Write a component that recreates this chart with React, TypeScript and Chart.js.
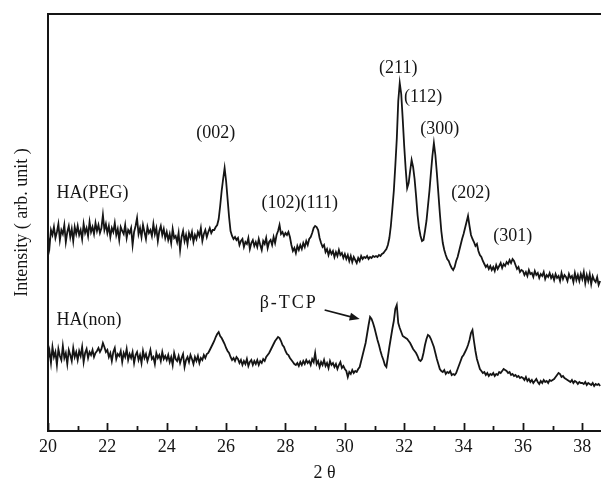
import React, { useEffect, useRef } from "react";
import { Chart, registerables } from "chart.js";

Chart.register(...registerables);

// ---- axis settings ----
const START_ANGLE = 20;
const ANGLE_STEP = 0.05;
const X_MIN = 20;
const X_MAX = 38.63;
const Y_MIN = 0;
const Y_MAX = 417;

const majorTickValues = [20, 22, 24, 26, 28, 30, 32, 34, 36, 38];
const minorTickValues = [21, 23, 25, 27, 29, 31, 33, 35, 37];

const xAxisTitle = "2 θ";
const yAxisTitle = "Intensity ( arb. unit )";

const seriesNames = ["HA(PEG)", "HA(non)"];

// ---- intensities, one value every 0.05° from 20.00° ----
const pegIntensity = [
  // 20
  195, 184, 201, 196, 204, 193, 199, 207, 191, 201, 197, 206, 189, 199, 205, 194, 202, 190, 204, 197,
  // 21
  205, 196, 201, 192, 207, 198, 203, 195, 209, 199, 204, 197, 208, 200, 206, 198, 203, 216, 201, 207,
  // 22
  198, 205, 194, 203, 199, 208, 196, 202, 191, 204, 200, 197, 206, 193, 201, 198, 203, 186, 199, 205,
  // 23
  213, 197, 203, 194, 206, 199, 192, 204, 198, 201, 195, 207, 197, 203, 190, 200, 205, 196, 202, 193,
  // 24
  199, 191, 197, 188, 202, 193, 195, 189, 198, 181, 194, 200, 190, 196, 187, 198, 193, 199, 189, 196,
  // 25
  192, 199, 195, 203, 190, 197, 201, 194, 199, 203, 198, 201, 201, 204, 206, 212, 225, 240, 252, 263,
  // 26
  250, 232, 214, 200, 195, 192, 194, 191, 193, 186, 190, 192, 184, 189, 187, 193, 182, 188, 191, 185,
  // 27
  189, 184, 192, 186, 181, 190, 187, 193, 183, 189, 191, 186, 194, 188, 196, 200, 206, 197, 199, 195,
  // 28
  198, 196, 199, 194, 186, 180, 183, 178, 185, 181, 186, 182, 188, 184, 190, 186, 192, 194, 198, 203,
  // 29
  205, 204, 201, 193, 188, 184, 186, 179, 182, 176, 181, 177, 180, 174, 179, 175, 181, 176, 178, 173,
  // 30
  177, 172, 176, 170, 175, 169, 174, 171, 168, 173, 170, 175, 172, 174, 173, 175, 172, 174, 173, 175,
  // 31
  174, 175, 174, 176, 175, 177, 178, 180, 182, 186, 193, 205, 222, 240, 265, 292, 330, 348, 337, 312,
  // 32
  285, 262, 243, 248, 260, 271, 264, 252, 235, 216, 203, 195, 190, 191, 200, 210, 225, 240, 258, 275,
  // 33
  288, 276, 258, 238, 218, 200, 188, 181, 176, 172, 170, 166, 163, 161, 164, 170, 174, 180, 186, 192,
  // 34
  197, 203, 209, 215, 205, 196, 192, 189, 185, 187, 180, 176, 174, 170, 167, 164, 166, 162, 165, 161,
  // 35
  164, 160, 166, 162, 165, 168, 163, 167, 165, 169, 167, 171, 168, 172, 170, 166, 162, 164, 159, 161,
  // 36
  160, 156, 159, 155, 161, 157, 158, 154, 160, 156, 158, 153, 157, 155, 159, 152, 156, 154, 158, 153,
  // 37
  156, 151, 157, 153, 155, 150, 158, 152, 156, 154, 150, 157, 153, 155, 149, 158, 151, 156, 150, 157,
  // 38
  152, 159, 148, 156, 150, 157, 147, 155, 151, 149, 154, 146, 150,
];

const nonIntensity = [
  // 20
  72, 80, 68, 84, 74, 79, 66, 82, 75, 71, 85, 73, 78, 67, 81, 76, 70, 83, 74, 79,
  // 21
  71, 80, 75, 84, 69, 78, 82, 73, 79, 76, 81, 74, 78, 80, 83, 79, 82, 88, 84, 79,
  // 22
  81, 74, 78, 70, 79, 83, 72, 77, 75, 80, 69, 78, 74, 82, 71, 77, 73, 79, 68, 76,
  // 23
  79, 71, 76, 68, 80, 73, 77, 70, 75, 81, 72, 74, 67, 78, 73, 76, 70, 79, 72, 75,
  // 24
  71, 76, 69, 74, 66, 78, 72, 70, 75, 68, 73, 77, 64, 71, 74, 69, 76, 72, 67, 74,
  // 25
  70, 75, 68, 73, 71, 76, 73, 77, 78, 81, 84, 87, 90, 94, 97, 99, 95, 93, 90, 87,
  // 26
  83, 80, 78, 74, 71, 73, 70, 74, 72, 68, 71, 66, 70, 67, 72, 65, 69, 71, 66, 70,
  // 27
  67, 71, 66, 70, 68, 72, 70, 74, 76, 78, 81, 84, 87, 90, 92, 94, 93, 90, 86, 84,
  // 28
  80, 77, 76, 73, 71, 69, 67, 66, 68, 65, 69, 66, 70, 67, 71, 68, 70, 66, 72, 69,
  // 29
  78, 67, 70, 64, 69, 66, 71, 65, 68, 63, 70, 66, 68, 64, 67, 62, 66, 69, 63, 65,
  // 30
  62, 60, 54, 59, 57, 61, 58, 60, 59, 62, 64, 70, 76, 82, 88, 97, 106, 114, 112, 108,
  // 31
  103, 97, 91, 86, 80, 75, 71, 66, 64, 74, 84, 93, 102, 110, 122, 126, 108, 103, 99, 95,
  // 32
  94, 93, 92, 90, 88, 85, 82, 80, 78, 75, 71, 70, 72, 78, 86, 92, 96, 95, 92, 88,
  // 33
  84, 78, 72, 67, 62, 60, 59, 61, 57, 59, 58, 60, 56, 57, 56, 58, 62, 66, 70, 74,
  // 34
  76, 79, 82, 86, 91, 98, 101, 90, 80, 72, 67, 62, 60, 58, 59, 56, 58, 55, 57, 56,
  // 35
  58, 55, 57, 56, 59, 58, 60, 62, 61, 60, 58, 59, 56, 57, 55, 56, 54, 55, 53, 54,
  // 36
  53, 51, 54, 50, 52, 49, 51, 48, 50, 52, 49, 47, 50, 48, 51, 49, 50, 48, 51, 50,
  // 37
  51, 52, 54, 56, 58, 57, 54, 55, 53, 52, 51, 50, 49, 51, 48, 50, 49, 47, 49, 48,
  // 38
  48, 47, 49, 46, 48, 47, 46, 48, 45, 47, 46, 47, 45,
];

// ---- annotations (in data coordinates) ----
const peakLabels = ["(002)", "(102)(111)", "(211)", "(112)", "(300)", "(202)", "(301)"];
const peakLabelAngle = [25.65, 28.48, 31.8, 32.64, 33.2, 34.24, 35.66];
const peakLabelIntensity = [298, 228, 363, 334, 302, 238, 195];

const seriesLabelAngle = [20.29, 20.29];
const seriesLabelIntensity = [238, 111];

const phaseLabel = "β-TCP";
const phaseLabelAngle = 28.11;
const phaseLabelIntensity = 128;
const arrowStart = [29.32, 121];
const arrowEnd = [30.5, 112];

const FONT = "'Liberation Serif', 'Times New Roman', serif";
const INK = "#151515";

const toPoints = (vals: number[]) =>
  vals.map((v, i) => ({ x: +(START_ANGLE + i * ANGLE_STEP).toFixed(2), y: v }));

const decorPlugin = {
  id: "decor",
  afterDraw(chart: any) {
    const { ctx, chartArea, scales } = chart;
    const xs = scales.x;
    const ys = scales.y;
    ctx.save();
    ctx.strokeStyle = INK;
    ctx.lineWidth = 2;
    // top frame line
    ctx.beginPath();
    ctx.moveTo(chartArea.left - 1, chartArea.top);
    ctx.lineTo(chartArea.right, chartArea.top);
    ctx.stroke();
    // inward ticks
    const drawTick = (v: number, len: number) => {
      const px = Math.round(xs.getPixelForValue(v)) + 0.5;
      ctx.beginPath();
      ctx.moveTo(px, chartArea.bottom);
      ctx.lineTo(px, chartArea.bottom - len);
      ctx.stroke();
    };
    ctx.lineWidth = 1.8;
    majorTickValues.forEach((v) => drawTick(v, 8));
    minorTickValues.forEach((v) => drawTick(v, 5));

    // texts
    ctx.fillStyle = INK;
    ctx.font = `18px ${FONT}`;
    ctx.textBaseline = "middle";
    ctx.textAlign = "center";
    peakLabels.forEach((t, i) => {
      ctx.fillText(t, xs.getPixelForValue(peakLabelAngle[i]), ys.getPixelForValue(peakLabelIntensity[i]));
    });
    ctx.textAlign = "left";
    seriesNames.forEach((t, i) => {
      ctx.fillText(t, xs.getPixelForValue(seriesLabelAngle[i]), ys.getPixelForValue(seriesLabelIntensity[i]));
    });
    ctx.textAlign = "center";
    try {
      (ctx as any).letterSpacing = "2px";
    } catch (e) {}
    ctx.fillText(phaseLabel, xs.getPixelForValue(phaseLabelAngle), ys.getPixelForValue(phaseLabelIntensity));
    try {
      (ctx as any).letterSpacing = "0px";
    } catch (e) {}

    // arrow
    const x1 = xs.getPixelForValue(arrowStart[0]);
    const y1 = ys.getPixelForValue(arrowStart[1]);
    const x2 = xs.getPixelForValue(arrowEnd[0]);
    const y2 = ys.getPixelForValue(arrowEnd[1]);
    const ang = Math.atan2(y2 - y1, x2 - x1);
    ctx.lineWidth = 1.8;
    ctx.beginPath();
    ctx.moveTo(x1, y1);
    ctx.lineTo(x2 - 6 * Math.cos(ang), y2 - 6 * Math.sin(ang));
    ctx.stroke();
    ctx.beginPath();
    ctx.moveTo(x2, y2);
    ctx.lineTo(x2 - 10 * Math.cos(ang) + 4 * Math.sin(ang), y2 - 10 * Math.sin(ang) - 4 * Math.cos(ang));
    ctx.lineTo(x2 - 10 * Math.cos(ang) - 4 * Math.sin(ang), y2 - 10 * Math.sin(ang) + 4 * Math.cos(ang));
    ctx.closePath();
    ctx.fill();
    ctx.restore();
  },
};

export default function App() {
  const canvasRef = useRef<HTMLCanvasElement | null>(null);

  useEffect(() => {
    document.body.style.margin = "0";
    const canvas = canvasRef.current;
    if (!canvas) return;
    const chart = new Chart(canvas, {
      type: "line",
      data: {
        datasets: [
          {
            label: seriesNames[0],
            data: toPoints(pegIntensity),
            borderColor: INK,
            borderWidth: 1.8,
            pointRadius: 0,
            tension: 0,
            fill: false,
          },
          {
            label: seriesNames[1],
            data: toPoints(nonIntensity),
            borderColor: INK,
            borderWidth: 1.8,
            pointRadius: 0,
            tension: 0,
            fill: false,
          },
        ],
      },
      options: {
        animation: false,
        responsive: false,
        maintainAspectRatio: false,
        parsing: false,
        layout: { padding: { top: 14, right: 0, bottom: 0, left: 0 } },
        plugins: {
          legend: { display: false },
          tooltip: { enabled: false },
          title: { display: false },
        },
        scales: {
          x: {
            type: "linear",
            min: X_MIN,
            max: X_MAX,
            afterBuildTicks: (scale: any) => {
              scale.ticks = majorTickValues.map((v) => ({ value: v }));
            },
            afterFit: (scale: any) => {
              scale.height = 56;
            },
            grid: { display: false, drawTicks: false },
            border: { display: true, color: INK, width: 2 },
            ticks: {
              color: INK,
              padding: 5,
              maxRotation: 0,
              autoSkip: false,
              font: { family: FONT, size: 18 },
            },
            title: {
              display: true,
              text: xAxisTitle,
              color: INK,
              font: { family: FONT, size: 18 },
              padding: { top: 0, bottom: 3 },
            },
          },
          y: {
            type: "linear",
            min: Y_MIN,
            max: Y_MAX,
            afterFit: (scale: any) => {
              scale.width = 48;
            },
            grid: { display: false, drawTicks: false },
            border: { display: true, color: INK, width: 2 },
            ticks: { display: false },
            title: {
              display: true,
              text: yAxisTitle,
              color: INK,
              font: { family: FONT, size: 18 },
              padding: { top: 11, bottom: 0 },
            },
          },
        },
      },
      plugins: [decorPlugin],
    } as any);
    return () => chart.destroy();
  }, []);

  return (
    <div style={{ width: 601, height: 487, background: "#fff" }}>
      <canvas ref={canvasRef} width={601} height={487} style={{ display: "block" }} />
    </div>
  );
}
